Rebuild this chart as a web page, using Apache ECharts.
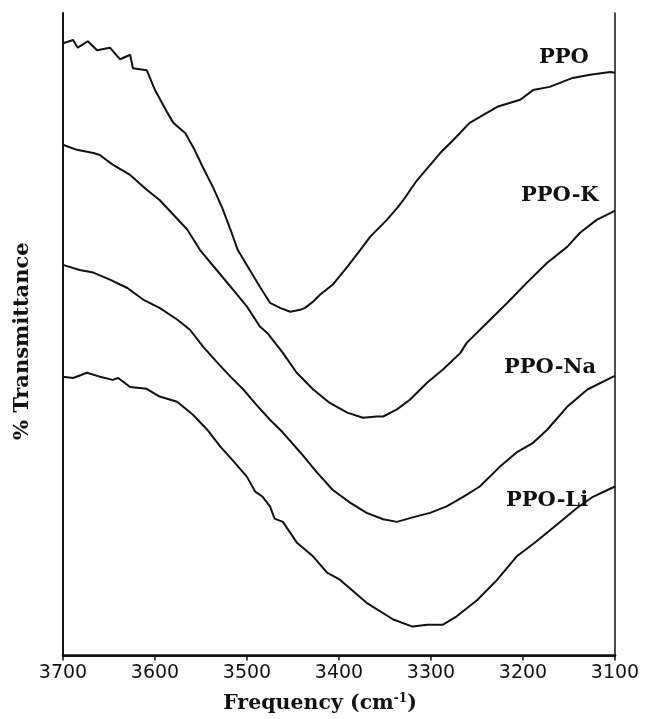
<!DOCTYPE html>
<html>
<head>
<meta charset="utf-8">
<script src="https://cdn.jsdelivr.net/npm/echarts@6/dist/echarts.min.js"></script>
<style>html,body{margin:0;padding:0;background:#fff}#c{width:651px;height:719px}</style>
</head>
<body>
<div id="c"></div>
<script>
// X axis ticks (wavenumber, cm^-1), reversed axis
const xTicks = [3700, 3600, 3500, 3400, 3300, 3200, 3100];
const seriesNames = ['PPO', 'PPO-K', 'PPO-Na', 'PPO-Li'];

// [frequency, relative transmittance (arbitrary, offset traces)]
const ppo = [
  [3700,95.3],[3689,95.8],[3684,94.6],[3673,95.6],[3663,94.2],[3649,94.6],[3638,92.8],[3627,93.5],
  [3624,91.4],[3609,91.1],[3600,88.0],[3587,84.6],[3580,82.9],[3567,81.3],[3557,78.7],[3548,76.0],
  [3537,72.9],[3527,69.7],[3518,66.3],[3510,63.1],[3497,60.0],[3486,57.4],[3475,54.9],[3464,54.1],
  [3453,53.5],[3442,53.8],[3437,54.1],[3428,55.1],[3421,56.1],[3407,57.7],[3391,60.5],[3377,63.1],
  [3366,65.2],[3348,67.8],[3336,69.8],[3330,70.9],[3315,74.0],[3290,78.2],[3276,80.2],[3258,82.9],
  [3228,85.4],[3203,86.5],[3189,88.0],[3171,88.5],[3146,89.9],[3127,90.4],[3105,90.8],[3100,90.7]
];
const ppoK = [
  [3700,79.5],[3685,78.7],[3667,78.2],[3660,77.9],[3646,76.4],[3627,74.8],[3609,72.5],[3595,70.9],
  [3580,68.6],[3565,66.3],[3551,63.1],[3533,60.0],[3515,56.9],[3500,54.3],[3486,51.2],[3478,50.2],
  [3461,47.1],[3446,44.0],[3428,41.4],[3410,39.3],[3391,37.8],[3374,37.0],[3359,37.2],[3352,37.2],
  [3337,38.3],[3323,39.8],[3304,42.5],[3287,44.5],[3268,47.1],[3261,48.7],[3239,51.8],[3217,54.9],
  [3196,58.0],[3174,61.1],[3152,63.6],[3138,65.8],[3120,67.8],[3102,69.1],[3100,69.2]
];
const ppoNa = [
  [3700,60.8],[3682,60.0],[3667,59.6],[3649,58.5],[3630,57.2],[3613,55.4],[3595,54.1],[3576,52.3],
  [3562,50.7],[3548,48.1],[3533,45.7],[3518,43.4],[3504,41.4],[3489,38.9],[3475,36.7],[3461,34.7],
  [3442,31.6],[3424,28.5],[3407,25.8],[3388,23.8],[3370,22.2],[3352,21.2],[3337,20.8],[3320,21.5],
  [3301,22.2],[3283,23.2],[3265,24.7],[3247,26.3],[3225,29.4],[3207,31.6],[3189,33.1],[3174,35.1],
  [3152,38.7],[3130,41.4],[3102,43.4],[3100,43.5]
];
const ppoLi = [
  [3700,43.4],[3689,43.2],[3674,44.0],[3660,43.4],[3646,42.9],[3640,43.2],[3627,41.8],[3609,41.5],
  [3595,40.3],[3576,39.5],[3559,37.5],[3543,35.1],[3529,32.5],[3515,30.3],[3500,27.8],[3491,25.5],
  [3483,24.7],[3475,23.2],[3470,21.3],[3461,20.8],[3446,17.6],[3428,15.4],[3413,12.9],[3399,11.8],
  [3370,8.2],[3341,5.6],[3320,4.5],[3304,4.8],[3287,4.8],[3272,6.1],[3250,8.6],[3228,11.8],
  [3207,15.4],[3187,17.6],[3163,20.4],[3141,23.0],[3124,24.7],[3100,26.3]
];
const curves = [ppo, ppoK, ppoNa, ppoLi];

const chart = echarts.init(document.getElementById('c'), null, {renderer: 'canvas'});
const serif = '"DejaVu Serif", "Liberation Serif", serif';
const labelStyle = {fontFamily: serif, fontWeight: 'bold', fontSize: 21, fill: '#111'};

chart.setOption({
  animation: false,
  backgroundColor: '#fff',
  grid: {left: 63, right: 36, top: 13, bottom: 63, show: false},
  xAxis: [{
    type: 'value', inverse: true, min: 3100, max: 3700, interval: 100,
    position: 'bottom',
    axisLine: {show: true, lineStyle: {color: '#111', width: 2.5}},
    axisTick: {show: true, inside: false, length: 5, lineStyle: {color: '#111', width: 1.5}},
    splitLine: {show: false},
    axisLabel: {
      color: '#111', fontFamily: '"DejaVu Sans", sans-serif', fontSize: 19, margin: 8,
      formatter: v => xTicks.includes(v) ? String(v) : ''
    },
    name: '{a|Frequency (cm}{s|-1}{a|)}',
    nameLocation: 'middle', nameGap: 37,
    nameTextStyle: {
      padding: [0, 38, 0, 0],
      rich: {
        a: {fontFamily: serif, fontWeight: 'bold', fontSize: 20.5, color: '#111'},
        s: {fontFamily: serif, fontWeight: 'bold', fontSize: 12, color: '#111', verticalAlign: 'top', padding: [0,0,10,0]}
      }
    }
  }, {
    type: 'value', inverse: true, min: 3100, max: 3700, position: 'top',
    axisLine: {show: true, lineStyle: {color: '#111', width: 2}},
    axisTick: {show: false}, axisLabel: {show: false}, splitLine: {show: false}
  }],
  yAxis: [{
    type: 'value', min: 0, max: 100, position: 'left',
    axisLine: {show: true, lineStyle: {color: '#111', width: 2}},
    axisTick: {show: false}, axisLabel: {show: false}, splitLine: {show: false},
    name: '% Transmittance', nameLocation: 'middle', nameGap: 30, nameRotate: 90,
    nameTextStyle: {fontFamily: serif, fontWeight: 'bold', fontSize: 21, color: '#111', padding: [0, 14, 0, 0]}
  }, {
    type: 'value', min: 0, max: 100, position: 'right',
    axisLine: {show: true, lineStyle: {color: '#111', width: 1.5}},
    axisTick: {show: false}, axisLabel: {show: false}, splitLine: {show: false}
  }],
  series: curves.map((d, i) => ({
    name: seriesNames[i], type: 'line', data: d, showSymbol: false, smooth: false,
    lineStyle: {color: '#111', width: 2}, xAxisIndex: 0, yAxisIndex: 0
  })),
  graphic: [
    {type: 'text', left: 539, top: 47, style: Object.assign({text: 'PPO', textVerticalAlign: 'middle'}, labelStyle)},
    {type: 'text', left: 521, top: 185, style: Object.assign({text: 'PPO-K', textVerticalAlign: 'middle'}, labelStyle)},
    {type: 'text', left: 504, top: 357, style: Object.assign({text: 'PPO-Na', textVerticalAlign: 'middle'}, labelStyle)},
    {type: 'text', left: 506, top: 490, style: Object.assign({text: 'PPO-Li', textVerticalAlign: 'middle'}, labelStyle)}
  ]
});
</script>
</body>
</html>
